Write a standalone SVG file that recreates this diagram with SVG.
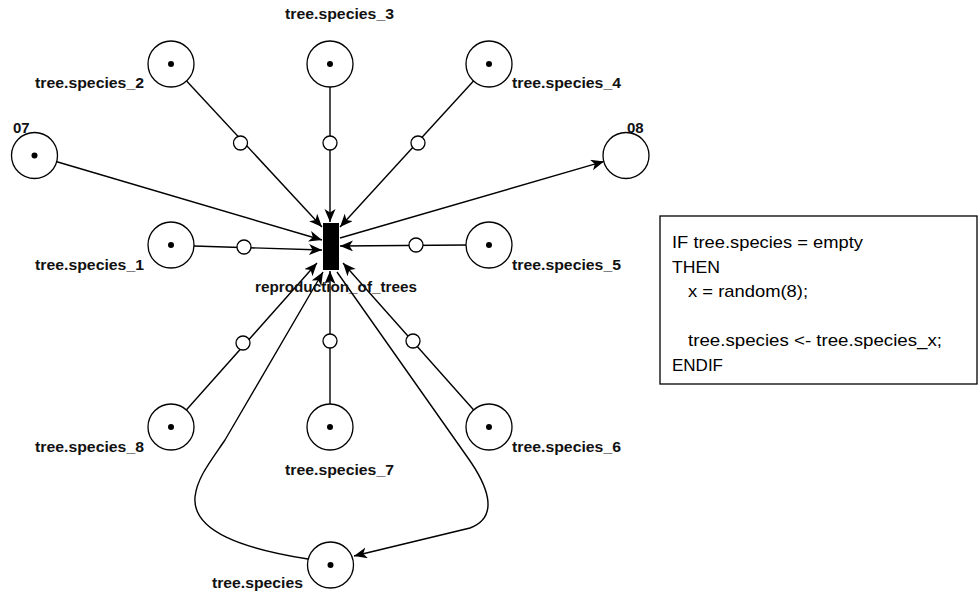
<svg xmlns="http://www.w3.org/2000/svg" width="980" height="597" viewBox="0 0 980 597">
  <style>
    .place { fill: #ffffff; stroke: #000000; stroke-width: 1.3; }
    .token { fill: #000000; }
    .mid { fill: #ffffff; stroke: #000000; stroke-width: 1.3; }
    .arc { fill: none; stroke: #000000; stroke-width: 1.4; }
    .label { font-family: "Liberation Sans", Arial, sans-serif; font-weight: bold; font-size: 15px; fill: #111111; }
    .code { font-family: "Liberation Sans", Arial, sans-serif; font-size: 17px; fill: #000000; }
  </style>
  <defs>
    <marker id="arrow" markerUnits="userSpaceOnUse" markerWidth="14" markerHeight="12" viewBox="0 0 14 12" refX="13" refY="5.5" orient="auto">
      <path d="M0,0 L13,5.5 L0,11 L3.5,5.5 Z" fill="#000000"/>
    </marker>
  </defs>

  <rect width="980" height="597" fill="#ffffff"/>

  <!-- arcs -->
  <g id="connectors">
    <line class="arc" x1="186.6" y1="80.9" x2="322" y2="227" marker-end="url(#arrow)"/>
    <line class="arc" x1="330" y1="87" x2="330" y2="222" marker-end="url(#arrow)"/>
    <line class="arc" x1="473.5" y1="81" x2="340" y2="227" marker-end="url(#arrow)"/>
    <line class="arc" x1="56" y1="161.5" x2="322" y2="240" marker-end="url(#arrow)"/>
    <line class="arc" x1="340" y1="238" x2="604" y2="161.4" marker-end="url(#arrow)"/>
    <line class="arc" x1="194" y1="246" x2="322" y2="250" marker-end="url(#arrow)"/>
    <line class="arc" x1="466" y1="245" x2="340" y2="246" marker-end="url(#arrow)"/>
    <line class="arc" x1="186.5" y1="409.8" x2="317" y2="263" marker-end="url(#arrow)"/>
    <line class="arc" x1="330" y1="404" x2="330" y2="271" marker-end="url(#arrow)"/>
    <line class="arc" x1="473.5" y1="409.8" x2="343" y2="263" marker-end="url(#arrow)"/>
    <path class="arc" d="M308,559 C 245,549 192,532 195,497 C 197,478 210,462 225,440 L 323,272" marker-end="url(#arrow)"/>
    <path class="arc" d="M337,272 L 468,458 C 485,482 502,516 470,528 L 354,556" marker-end="url(#arrow)"/>
  </g>

  <!-- small circles sitting on the arcs -->
  <g id="arc-marks">
    <circle class="mid" cx="240.5" cy="143" r="7"/>
    <circle class="mid" cx="330" cy="143" r="7"/>
    <circle class="mid" cx="418" cy="143" r="7"/>
    <circle class="mid" cx="244" cy="247" r="7"/>
    <circle class="mid" cx="416" cy="245" r="7"/>
    <circle class="mid" cx="243" cy="343" r="7"/>
    <circle class="mid" cx="330" cy="341" r="7"/>
    <circle class="mid" cx="413" cy="341" r="7"/>
  </g>

  <!-- transition -->
  <g id="reproduction_of_trees">
    <rect x="323" y="223" width="16" height="47" fill="#000000"/>
    <text class="label" x="255" y="292" textLength="162" lengthAdjust="spacingAndGlyphs">reproduction_of_trees</text>
  </g>

  <!-- places -->
  <g id="species_2">
    <circle class="place" cx="171" cy="64" r="23"/>
    <circle class="token" cx="171" cy="64" r="3"/>
    <text class="label" x="35" y="88" textLength="109" lengthAdjust="spacingAndGlyphs">tree.species_2</text>
  </g>
  <g id="species_3">
    <circle class="place" cx="330" cy="64" r="23"/>
    <circle class="token" cx="330" cy="64" r="3"/>
    <text class="label" x="285" y="19" textLength="109" lengthAdjust="spacingAndGlyphs">tree.species_3</text>
  </g>
  <g id="species_4">
    <circle class="place" cx="489" cy="64" r="23"/>
    <circle class="token" cx="489" cy="64" r="3"/>
    <text class="label" x="512" y="88" textLength="109" lengthAdjust="spacingAndGlyphs">tree.species_4</text>
  </g>
  <g id="p07">
    <circle class="place" cx="34.5" cy="155.5" r="23"/>
    <circle class="token" cx="34.5" cy="155.5" r="3"/>
    <text class="label" x="13" y="133">07</text>
  </g>
  <g id="p08">
    <circle class="place" cx="626" cy="155.5" r="23"/>
    <text class="label" x="627" y="133">08</text>
  </g>
  <g id="species_1">
    <circle class="place" cx="171" cy="245" r="23"/>
    <circle class="token" cx="171" cy="245" r="3"/>
    <text class="label" x="35" y="270" textLength="109" lengthAdjust="spacingAndGlyphs">tree.species_1</text>
  </g>
  <g id="species_5">
    <circle class="place" cx="489" cy="245" r="23"/>
    <circle class="token" cx="489" cy="245" r="3"/>
    <text class="label" x="512" y="270" textLength="109" lengthAdjust="spacingAndGlyphs">tree.species_5</text>
  </g>
  <g id="species_8">
    <circle class="place" cx="171" cy="427" r="23"/>
    <circle class="token" cx="171" cy="427" r="3"/>
    <text class="label" x="35" y="452" textLength="109" lengthAdjust="spacingAndGlyphs">tree.species_8</text>
  </g>
  <g id="species_7">
    <circle class="place" cx="330" cy="427" r="23"/>
    <circle class="token" cx="330" cy="427" r="3"/>
    <text class="label" x="285" y="475" textLength="109" lengthAdjust="spacingAndGlyphs">tree.species_7</text>
  </g>
  <g id="species_6">
    <circle class="place" cx="489" cy="427" r="23"/>
    <circle class="token" cx="489" cy="427" r="3"/>
    <text class="label" x="512" y="452" textLength="109" lengthAdjust="spacingAndGlyphs">tree.species_6</text>
  </g>
  <g id="species">
    <circle class="place" cx="330.5" cy="565" r="23"/>
    <circle class="token" cx="330.5" cy="565" r="3"/>
    <text class="label" x="212" y="588" textLength="91" lengthAdjust="spacingAndGlyphs">tree.species</text>
  </g>

  <!-- rule box -->
  <g id="rule">
    <rect x="660" y="216" width="317" height="168" fill="#ffffff" stroke="#000000" stroke-width="1.3"/>
    <text class="code" x="672" y="248" textLength="191" lengthAdjust="spacingAndGlyphs">IF tree.species = empty</text>
    <text class="code" x="672" y="273" textLength="48" lengthAdjust="spacingAndGlyphs">THEN</text>
    <text class="code" x="688" y="297" textLength="120" lengthAdjust="spacingAndGlyphs">x = random(8);</text>
    <text class="code" x="688" y="346" textLength="254" lengthAdjust="spacingAndGlyphs">tree.species &lt;- tree.species_x;</text>
    <text class="code" x="672" y="371" textLength="51" lengthAdjust="spacingAndGlyphs">ENDIF</text>
  </g>
</svg>
